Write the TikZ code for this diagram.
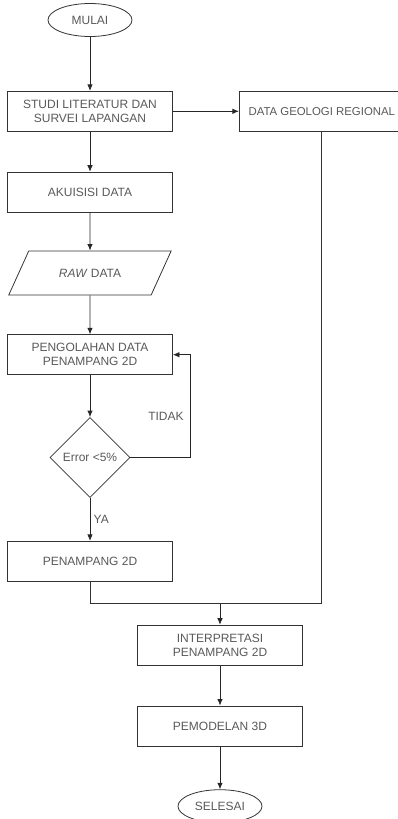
\documentclass[tikz,border=0pt]{standalone}
\usepackage{fontspec}
\setmainfont{Liberation Sans}
\usetikzlibrary{arrows,arrows.meta,positioning}
\usetikzlibrary{shapes.geometric}
\tikzset{
	%Define standard arrow tip
	>={Latex[length=6.5pt,width=5.5pt]},
	%Define text for all nodes
	every node/.append style={
		font=\fontsize{12}{14}\selectfont,
		text=black!65},
	%Define style for boxes
	kotak/.style={
		rectangle,
		draw=black!80, line width=0.8pt,
		minimum width=165pt,
		minimum height=40pt,
		align=center},
	%Define style for start and end
	oval/.style={
		ellipse,
		draw=black!80, line width=0.8pt,
		minimum width=84pt,
		minimum height=33pt,
		inner sep=0pt},
	%Define style for data
	jajar/.style={
		trapezium,
		trapezium left angle=53,
		trapezium right angle=127,
		trapezium stretches=true,
		draw=black!80, line width=0.8pt,
		minimum width=163pt,
		minimum height=44pt},
	%Define style for decision
	belah/.style={
		diamond,
		draw=black!80, line width=0.8pt,
		minimum width=80pt,
		minimum height=80pt,
		inner sep=1pt},
	% Define arrow style
	pil/.style={
		->,
		draw=black!85,
		line width=0.8pt},
	% Define line style
	garis/.style={
		draw=black!80,
		line width=0.8pt}
}

\begin{document}
\begin{tikzpicture}[x=1pt, y=1pt, node distance=40pt, auto,]
	
	\useasboundingbox (0,0) rectangle (398,-819);
	
	\node[oval] (mulai) at (90,-20) {MULAI};
	\node[kotak, below =54pt of mulai] (studi) {STUDI LITERATUR DAN\\SURVEI LAPANGAN};
	\node[kotak, right =66pt of studi, font=\fontsize{11.4}{14}\selectfont] (geologi) {DATA GEOLOGI REGIONAL};
	\node[kotak, below =40pt of studi] (akuisisi) {AKUISISI DATA};
	\node[jajar, below =38pt of akuisisi] (raw) {\textit{RAW} DATA};
	\node[kotak, below =39pt of raw] (olah) {PENGOLAHAN DATA\\PENAMPANG 2D};
	\node[belah, below =42pt of olah] (galat) {Error <5\%};
	\node[kotak, below =43pt of galat] (penampang) {PENAMPANG 2D};
	\coordinate[below =22pt of penampang.south, xshift=130pt] (gabung);
	\node[kotak, below =21pt of gabung] (interpretasi) {INTERPRETASI\\PENAMPANG 2D};
	\node[kotak, below =40pt of interpretasi] (model) {PEMODELAN 3D};
	\node[oval, below =43pt of model] (selesai) {SELESAI};
	
	\path
	(mulai) edge [pil] (studi)
	(studi) edge [pil] (geologi)
	(studi) edge [pil] (akuisisi)
	(akuisisi) edge [pil] (raw)
	(raw) edge [pil] (olah)
	(olah) edge [pil] (galat)
	(galat) edge [pil] node[right] {YA} (penampang)
	(gabung) edge [pil] (interpretasi)
	(interpretasi) edge [pil] (model)
	(model) edge [pil] (selesai);
	
	\draw[pil] (galat.east) -- ++(60,0) |- node[pos=0.2, left=3pt] {TIDAK} (olah.east);
	\draw[garis] (penampang.south) |- (gabung);
	\draw[garis] (geologi.south) |- (gabung);
	
\end{tikzpicture}
\end{document}
